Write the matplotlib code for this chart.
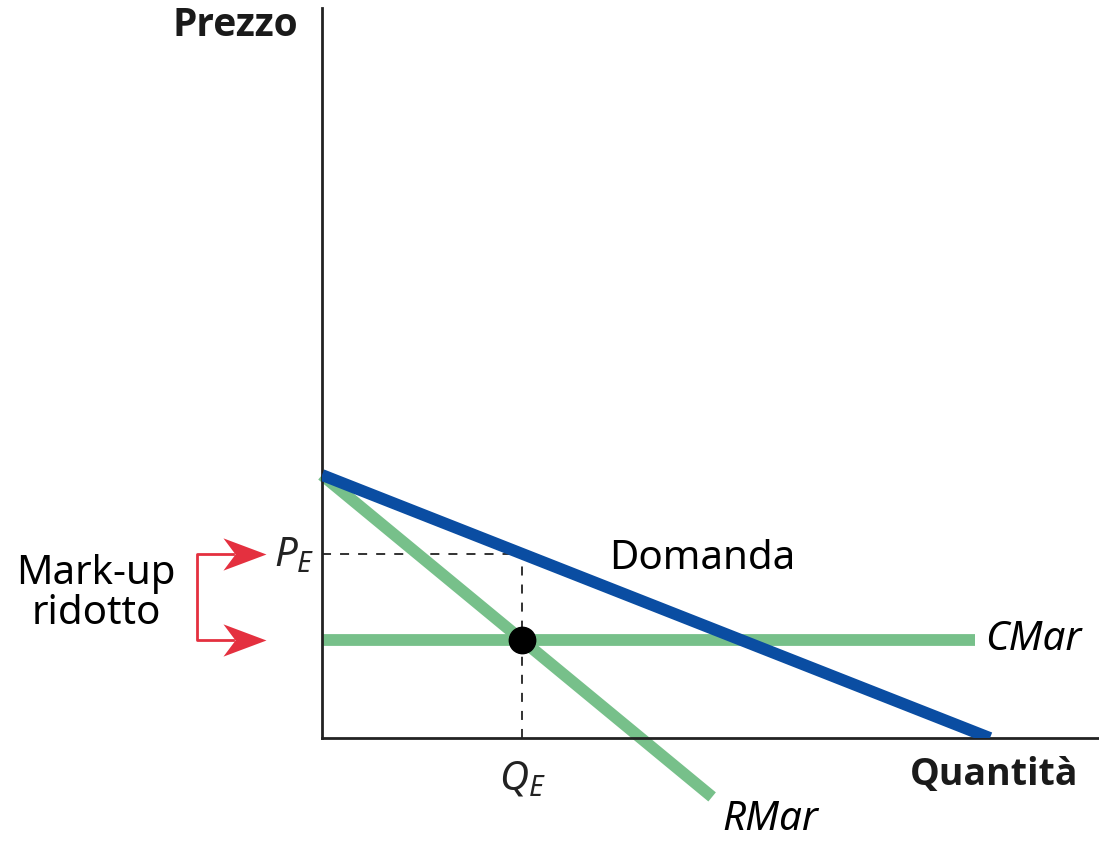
import matplotlib.pyplot as plt
from matplotlib.path import Path

plt.rcParams['font.family'] = ['Noto Sans', 'DejaVu Sans']
plt.rcParams['mathtext.fontset'] = 'custom'
plt.rcParams['mathtext.it'] = 'Noto Sans:italic'
plt.rcParams['mathtext.rm'] = 'Noto Sans'

# Curve (Q, P) - unità arbitrarie
domanda_q = [0, 10]
domanda_p = [10, 0]
rmar_q = [0, 5.84]
rmar_p = [10, -2.24]
cmar_q = [0, 9.78]
cmar_p = [3.73, 3.73]
q_e = 3.0
p_e = 7.0

blu = '#0A4DA2'
verde = '#77C08A'
rosso = '#E4303F'

fig = plt.figure(figsize=(10.99, 8.42), dpi=100)
W, H = 1099, 842
x0, y0 = 322, 738
ax = fig.add_axes([x0 / W, 1 - y0 / H, (W - x0) / W, (y0 - 8) / H])
ax.set_xlim(0, (W - x0) / 66.8)
ax.set_ylim(0, (y0 - 8) / 26.3)
for s in ['top', 'right']:
    ax.spines[s].set_visible(False)
for s in ['left', 'bottom']:
    ax.spines[s].set_linewidth(2)
    ax.spines[s].set_color('#222222')
ax.set_xticks([])
ax.set_yticks([])

# tratteggi
ax.plot([0, q_e], [p_e, p_e], color='#222222', lw=1.3, ls=(0, (5, 5)))
ax.plot([q_e, q_e], [0, p_e], color='#222222', lw=1.3, ls=(0, (5, 5)))

ax.plot(cmar_q, cmar_p, color=verde, lw=8.5, solid_capstyle='butt')
ax.plot(rmar_q, rmar_p, color=verde, lw=8.5, solid_capstyle='butt', clip_on=False)
ax.plot(domanda_q, domanda_p, color=blu, lw=8.5, solid_capstyle='butt', zorder=3)
ax.plot([q_e], [cmar_p[0]], 'o', color='black', ms=19, zorder=5)

fs = 29
ax.text(4.3, p_e - 0.2, 'Domanda', fontsize=fs, ha='left', va='center')
ax.text(9.93, cmar_p[0], 'CMar', fontsize=fs, style='italic', ha='left', va='center')
ax.text(6.0, -3.1, 'RMar', fontsize=fs, style='italic', ha='left', va='center')
ax.text(q_e, -1.6, r'$Q_E$', fontsize=fs, ha='center', va='center', color='#222222')
ax.text(-0.11, p_e - 0.1, r'$P_E$', fontsize=fs, ha='right', va='center', color='#222222')

fig.text(298 / W, 1 - 25 / H, 'Prezzo', fontsize=28, fontweight='bold', family='Open Sans',
         ha='right', va='center', color='#1a1a1a')
fig.text(1078 / W, 1 - 775 / H, 'Quantità', fontsize=27, fontweight='bold', family='Open Sans',
         ha='right', va='center', color='#1a1a1a')
fig.text(96 / W, 1 - 594 / H, 'Mark-up\nridotto', fontsize=fs, ha='center', va='center',
         linespacing=1.0)

# parentesi rossa con frecce
xb = (197 - x0) / 66.8
xa = (266 - x0) / 66.8
ax.plot([xa - 0.5, xb, xb, xa - 0.5], [p_e, p_e, cmar_p[0], cmar_p[0]], color=rosso,
        lw=2, clip_on=False)
punta = Path([(0, 0), (-1.6, 0.6), (-1.15, 0), (-1.6, -0.6), (0, 0)],
             [Path.MOVETO, Path.LINETO, Path.LINETO, Path.LINETO, Path.CLOSEPOLY])
ax.plot([xa, xa], [p_e, cmar_p[0]], ls='none', marker=punta, ms=62, color=rosso,
        mew=0, clip_on=False)

fig.savefig('out.png', dpi=100)
